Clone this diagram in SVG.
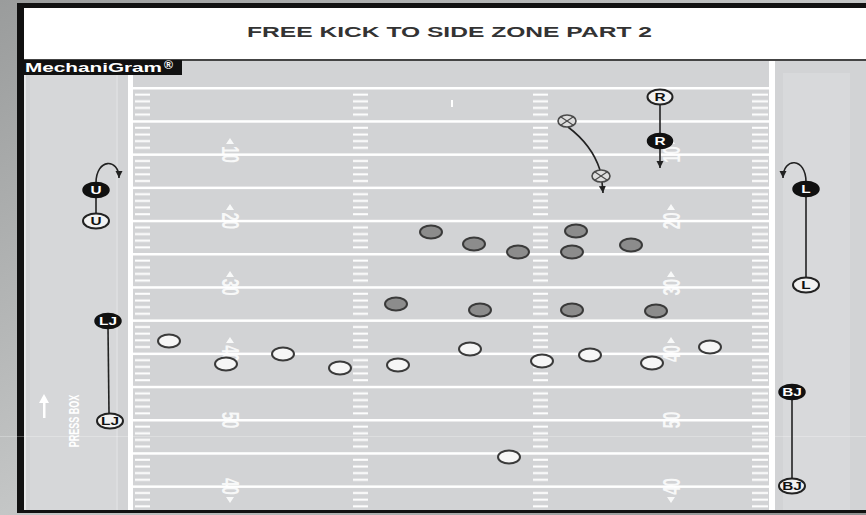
<svg xmlns="http://www.w3.org/2000/svg" width="866" height="515" viewBox="0 0 866 515">
<defs>
<linearGradient id="bg" x1="0" y1="0" x2="1" y2="1">
<stop offset="0" stop-color="#9a9c9c"/>
<stop offset="0.5" stop-color="#c4c6c6"/>
<stop offset="1" stop-color="#8f9191"/>
</linearGradient>
<pattern id="ticks" patternUnits="userSpaceOnUse" x="0" y="88" width="866" height="33.2">
<rect x="0" y="5.6" width="866" height="2" fill="#fff"/>
<rect x="0" y="12.3" width="866" height="2" fill="#fff"/>
<rect x="0" y="18.9" width="866" height="2" fill="#fff"/>
<rect x="0" y="25.6" width="866" height="2" fill="#fff"/>
</pattern>
<marker id="ah" markerUnits="userSpaceOnUse" markerWidth="8" markerHeight="8" refX="7" refY="4" orient="auto">
<path d="M0,0.5 L7,4 L0,7.5 z" fill="#222"/>
</marker>
<style>
.ttl{font-family:"Liberation Sans",Arial,sans-serif;font-weight:bold;font-size:14px;fill:#333}
.mg{font-family:"Liberation Sans",Arial,sans-serif;font-weight:bold;font-size:12px;fill:#fff}
.num{font-family:"Liberation Sans",Arial,sans-serif;font-weight:bold;font-size:15px;fill:#fff;fill-opacity:0.85}
.pb{font-family:"Liberation Sans",Arial,sans-serif;font-weight:bold;font-size:9px;fill:#fff}
.yl{fill:#fff}
.gp{fill:#8c8c8c;stroke:#3a3a3a;stroke-width:2}
.wp{fill:#f6f6f6;stroke:#3a3a3a;stroke-width:2}
.of{fill:#111;stroke:#111;stroke-width:1.5}
.oo{fill:#f2f2f2;stroke:#222;stroke-width:2}
.ot{font-family:"Liberation Sans",Arial,sans-serif;font-weight:bold;font-size:11px;text-anchor:middle}
.otw{fill:#fff}
.otb{fill:#111}
.ball{fill:#dedede;stroke:#4a4a4a;stroke-width:1.6}
.bx{stroke:#4a4a4a;stroke-width:1.2}
.ln{fill:none;stroke:#222;stroke-width:1.6}
.lna{fill:none;stroke:#222;stroke-width:1.6;marker-end:url(#ah)}
.tri{fill:#fff;fill-opacity:0.85}
</style>
</defs>
<!-- background and frame -->
<rect x="0" y="0" width="866" height="515" fill="url(#bg)"/>
<rect x="17" y="3" width="849" height="510" fill="#111"/>
<rect x="24" y="8" width="842" height="51" fill="#fff"/>
<rect x="24" y="59" width="842" height="2" fill="#444"/>
<rect x="24" y="61" width="842" height="449" fill="#e6e7e8"/>
<rect x="26" y="61" width="840" height="449" fill="#d2d3d5"/>
<rect x="30" y="74" width="88" height="436" fill="#d6d7d9"/>
<rect x="783" y="73" width="67" height="437" fill="#d8d9db"/>
<rect x="116" y="61" width="2" height="449" fill="#dcdddf"/>
<text class="ttl" x="247" y="37" textLength="405" lengthAdjust="spacingAndGlyphs">FREE KICK TO SIDE ZONE PART 2</text>

<!-- field markings -->
<g id="field">
<rect x="128" y="61" width="5" height="449" class="yl"/>
<rect x="769" y="61" width="6" height="449" class="yl"/>
<rect x="133" y="87" width="636" height="2.5" class="yl"/>
<rect x="133" y="120.2" width="636" height="2.5" class="yl"/>
<rect x="133" y="153.4" width="636" height="2.5" class="yl"/>
<rect x="133" y="186.6" width="636" height="2.5" class="yl"/>
<rect x="133" y="219.8" width="636" height="2.5" class="yl"/>
<rect x="133" y="253" width="636" height="2.5" class="yl"/>
<rect x="133" y="286.2" width="636" height="2.5" class="yl"/>
<rect x="133" y="319.4" width="636" height="2.5" class="yl"/>
<rect x="133" y="352.6" width="636" height="2.5" class="yl"/>
<rect x="133" y="385.8" width="636" height="2.5" class="yl"/>
<rect x="133" y="419" width="636" height="2.5" class="yl"/>
<rect x="133" y="452.2" width="636" height="2.5" class="yl"/>
<rect x="133" y="485.4" width="636" height="2.5" class="yl"/>
<rect x="135" y="88" width="15" height="422" fill="url(#ticks)"/>
<rect x="752" y="88" width="16" height="422" fill="url(#ticks)"/>
<rect x="353" y="88" width="15" height="422" fill="url(#ticks)"/>
<rect x="533" y="88" width="15" height="422" fill="url(#ticks)"/>
<rect x="451" y="100" width="2" height="7" class="yl"/>
</g>

<g id="numbers">
<text class="num" text-anchor="middle" transform="translate(222,154.4) scale(1.6,1) rotate(90)">10</text>
<text class="num" text-anchor="middle" transform="translate(222,220.8) scale(1.6,1) rotate(90)">20</text>
<text class="num" text-anchor="middle" transform="translate(222,287.2) scale(1.6,1) rotate(90)">30</text>
<text class="num" text-anchor="middle" transform="translate(222,353.6) scale(1.6,1) rotate(90)">40</text>
<text class="num" text-anchor="middle" transform="translate(222,420) scale(1.6,1) rotate(90)">50</text>
<text class="num" text-anchor="middle" transform="translate(222,486.4) scale(1.6,1) rotate(90)">40</text>
<polygon class="tri" points="230,138 226,144 234,144"/>
<polygon class="tri" points="230,204 226,210 234,210"/>
<polygon class="tri" points="230,271 226,277 234,277"/>
<polygon class="tri" points="230,337 226,343 234,343"/>
<polygon class="tri" points="230,503 226,497 234,497"/>
<text class="num" text-anchor="middle" transform="translate(680,154.4) scale(1.6,1) rotate(-90)">10</text>
<text class="num" text-anchor="middle" transform="translate(680,220.8) scale(1.6,1) rotate(-90)">20</text>
<text class="num" text-anchor="middle" transform="translate(680,287.2) scale(1.6,1) rotate(-90)">30</text>
<text class="num" text-anchor="middle" transform="translate(680,353.6) scale(1.6,1) rotate(-90)">40</text>
<text class="num" text-anchor="middle" transform="translate(680,420) scale(1.6,1) rotate(-90)">50</text>
<text class="num" text-anchor="middle" transform="translate(680,486.4) scale(1.6,1) rotate(-90)">40</text>
<polygon class="tri" points="671,138 667,144 675,144"/>
<polygon class="tri" points="671,204 667,210 675,210"/>
<polygon class="tri" points="671,271 667,277 675,277"/>
<polygon class="tri" points="671,337 667,343 675,343"/>
<polygon class="tri" points="671,503 667,497 675,497"/>
</g>

<g id="pressbox">
<text class="pb" text-anchor="middle" transform="translate(79,421) scale(1.6,1) rotate(-90)">PRESS BOX</text>
<path d="M44,394 L39,403 L49,403 z" fill="#fff"/>
<rect x="43" y="402" width="2.5" height="16" fill="#fff"/>
</g>

<rect x="0" y="436" width="866" height="1" fill="#fff" fill-opacity="0.25"/>

<g id="mechanigram">
<rect x="17" y="60" width="165" height="15" fill="#111"/>
<text class="mg" x="25" y="72" textLength="137" lengthAdjust="spacingAndGlyphs">MechaniGram</text>
<text class="mg" x="164" y="69" font-size="7" textLength="9" lengthAdjust="spacingAndGlyphs">®</text>
</g>

<!-- connectors -->
<g id="connectors">
<line class="lna" x1="660" y1="104" x2="660" y2="168"/>
<path class="ln" d="M568,127 Q592,145 600,170"/>
<line class="lna" x1="602" y1="182" x2="603" y2="193"/>
<path class="lna" d="M96,183 C96,158 119,158 119,178"/>
<line class="ln" x1="96" y1="197" x2="96" y2="214"/>
<line class="ln" x1="108" y1="328" x2="109" y2="413"/>
<path class="lna" d="M806,182 C806,157 783,157 783,178"/>
<line class="ln" x1="806" y1="196" x2="806" y2="278"/>
<line class="ln" x1="792" y1="399" x2="792" y2="478"/>
</g>

<!-- receiving team (gray) -->
<g id="receivers">
<ellipse id="g1" class="gp" cx="431" cy="232" rx="11" ry="6.5"/>
<ellipse id="g2" class="gp" cx="474" cy="244" rx="11" ry="6.5"/>
<ellipse id="g3" class="gp" cx="518" cy="252" rx="11" ry="6.5"/>
<ellipse id="g4" class="gp" cx="576" cy="231" rx="11" ry="6.5"/>
<ellipse id="g5" class="gp" cx="572" cy="252" rx="11" ry="6.5"/>
<ellipse id="g6" class="gp" cx="631" cy="245" rx="11" ry="6.5"/>
<ellipse id="g7" class="gp" cx="396" cy="304" rx="11" ry="6.5"/>
<ellipse id="g8" class="gp" cx="480" cy="310" rx="11" ry="6.5"/>
<ellipse id="g9" class="gp" cx="572" cy="310" rx="11" ry="6.5"/>
<ellipse id="g10" class="gp" cx="656" cy="311" rx="11" ry="6.5"/>
</g>

<!-- kicking team (white) -->
<g id="kickers">
<ellipse id="w1" class="wp" cx="169" cy="341" rx="11" ry="6.5"/>
<ellipse id="w2" class="wp" cx="226" cy="364" rx="11" ry="6.5"/>
<ellipse id="w3" class="wp" cx="283" cy="354" rx="11" ry="6.5"/>
<ellipse id="w4" class="wp" cx="340" cy="368" rx="11" ry="6.5"/>
<ellipse id="w5" class="wp" cx="398" cy="365" rx="11" ry="6.5"/>
<ellipse id="w6" class="wp" cx="470" cy="349" rx="11" ry="6.5"/>
<ellipse id="w7" class="wp" cx="542" cy="361" rx="11" ry="6.5"/>
<ellipse id="w8" class="wp" cx="590" cy="355" rx="11" ry="6.5"/>
<ellipse id="w9" class="wp" cx="652" cy="363" rx="11" ry="6.5"/>
<ellipse id="w10" class="wp" cx="710" cy="347" rx="11" ry="6.5"/>
<ellipse id="w11" class="wp" cx="509" cy="457" rx="11" ry="6.5"/>
</g>

<!-- ball positions -->
<g id="ball1">
<ellipse class="ball" cx="567" cy="121" rx="9" ry="6"/>
<line class="bx" x1="561" y1="117" x2="573" y2="125"/>
<line class="bx" x1="561" y1="125" x2="573" y2="117"/>
</g>
<g id="ball2">
<ellipse class="ball" cx="601" cy="176" rx="9" ry="6"/>
<line class="bx" x1="595" y1="172" x2="607" y2="180"/>
<line class="bx" x1="595" y1="180" x2="607" y2="172"/>
</g>

<!-- officials -->
<g id="R-start"><ellipse class="oo" cx="660" cy="97" rx="12.5" ry="7.5"/><text class="ot otb" transform="translate(660,101) scale(1.4,1)">R</text></g>
<g id="R-end"><ellipse class="of" cx="660" cy="141" rx="12.5" ry="7.5"/><text class="ot otw" transform="translate(660,145) scale(1.4,1)">R</text></g>
<g id="U-end"><ellipse class="of" cx="96" cy="190" rx="13" ry="7.5"/><text class="ot otw" transform="translate(96,194) scale(1.4,1)">U</text></g>
<g id="U-start"><ellipse class="oo" cx="96" cy="221" rx="13" ry="7.5"/><text class="ot otb" transform="translate(96,225) scale(1.4,1)">U</text></g>
<g id="LJ-end"><ellipse class="of" cx="108" cy="321" rx="13" ry="7.5"/><text class="ot otw" transform="translate(108,325) scale(1.4,1)">LJ</text></g>
<g id="LJ-start"><ellipse class="oo" cx="110" cy="421" rx="13" ry="7.5"/><text class="ot otb" transform="translate(110,425) scale(1.4,1)">LJ</text></g>
<g id="L-end"><ellipse class="of" cx="806" cy="189" rx="13" ry="7.5"/><text class="ot otw" transform="translate(806,193) scale(1.4,1)">L</text></g>
<g id="L-start"><ellipse class="oo" cx="806" cy="285" rx="13" ry="7.5"/><text class="ot otb" transform="translate(806,289) scale(1.4,1)">L</text></g>
<g id="BJ-end"><ellipse class="of" cx="792" cy="392" rx="13" ry="7.5"/><text class="ot otw" transform="translate(792,396) scale(1.4,1)">BJ</text></g>
<g id="BJ-start"><ellipse class="oo" cx="792" cy="486" rx="13" ry="7.5"/><text class="ot otb" transform="translate(792,490) scale(1.4,1)">BJ</text></g>
</svg>
